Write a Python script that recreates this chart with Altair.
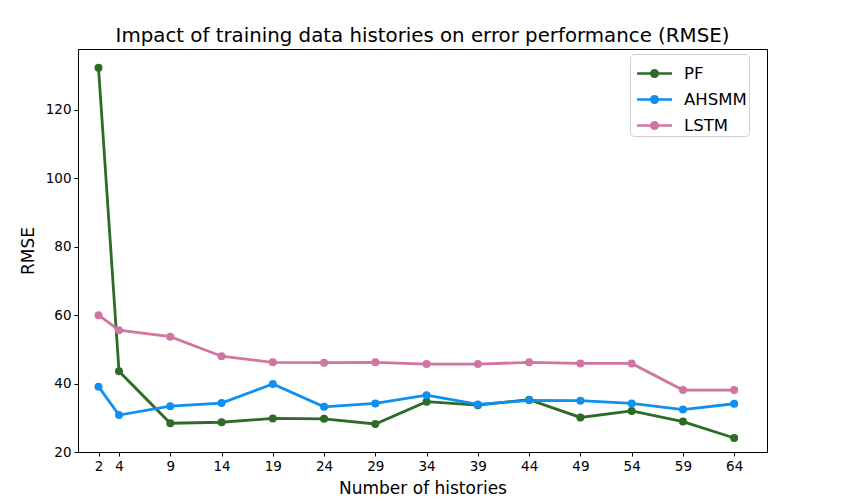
import altair as alt
import pandas as pd

histories = [2, 4, 9, 14, 19, 24, 29, 34, 39, 44, 49, 54, 59, 64]
pf = [132.3, 43.6, 28.4, 28.7, 29.8, 29.7, 28.2, 34.7, 33.7, 35.3, 30.1, 32.0, 28.9, 24.1]
ahsmm = [39.1, 30.8, 33.4, 34.3, 39.9, 33.2, 34.2, 36.6, 33.9, 35.1, 35.0, 34.2, 32.4, 34.1]
lstm = [60.0, 55.6, 53.7, 48.0, 46.2, 46.1, 46.2, 45.7, 45.7, 46.2, 45.9, 45.9, 38.1, 38.1]

series = ["PF", "AHSMM", "LSTM"]
colors = ["#2d6b27", "#0f8ff0", "#d275a0"]

rows = []
for name, vals in zip(series, [pf, ahsmm, lstm]):
    for h, v in zip(histories, vals):
        rows.append({"histories": h, "RMSE": v, "model": name})
df = pd.DataFrame(rows)

legend_symbol = ("M-1,-0.075H1V0.075H-1Z "
                 "M0.26,0A0.26,0.26 0 1,1 -0.26,0A0.26,0.26 0 1,1 0.26,0Z")

color = alt.Color(
    "model:N",
    scale=alt.Scale(domain=series, range=colors),
    sort=series,
    legend=alt.Legend(
        title=None,
        orient="none",
        legendX=552,
        legendY=5,
        symbolType=legend_symbol,
        symbolSize=1225,
        symbolStrokeWidth=0,
        symbolOpacity=1,
        symbolOffset=5,
        labelFontSize=16.5,
        labelFont="DejaVu Sans",
        labelColor="black",
        rowPadding=0,
        padding=2,
        strokeColor="#d0d0d0",
        fillColor="white",
        cornerRadius=4,
        labelOffset=12,
    ),
)

axis_style = dict(
    grid=False, labelFontSize=13.5, titleFontSize=17, tickSize=4,
    labelFont="DejaVu Sans", titleFont="DejaVu Sans", labelColor="black",
    titleColor="black", domainColor="black", tickColor="black",
    titleFontWeight="normal", labelPadding=3,
)

x = alt.X(
    "histories:Q",
    scale=alt.Scale(domain=[0, 67.2], nice=False, zero=False),
    axis=alt.Axis(values=histories, title="Number of histories",
                  titleBaseline="alphabetic", titleY=41, labelFlush=False,
                  **axis_style),
)
y = alt.Y(
    "RMSE:Q",
    scale=alt.Scale(domain=[20, 137.8], nice=False, zero=False),
    axis=alt.Axis(values=[20, 40, 60, 80, 100, 120], title="RMSE",
                  titleBaseline="middle", titleX=-50, titleY=201.5,
                  **axis_style),
)

lines = alt.Chart(df).mark_line(strokeWidth=2.8).encode(x=x, y=y, color=color,
                                                       order="histories:Q")
points = alt.Chart(df).mark_point(filled=True, size=64, opacity=1, shape="circle").encode(
    x=x, y=y, color=alt.Color("model:N", scale=alt.Scale(domain=series, range=colors), legend=None)
)

chart = alt.layer(lines, points).properties(
    width=689,
    height=403,
    background="white",
    title=alt.TitleParams(
        "Impact of training data histories on error performance (RMSE)",
        fontSize=19.8, font="DejaVu Sans", fontWeight="normal", color="black",
        anchor="middle", offset=7, baseline="alphabetic", dy=20,
    ),
    autosize=alt.AutoSizeParams(type="none"),
    padding={"left": 70, "top": 41, "right": 80, "bottom": 49},
).configure_view(
    stroke="black", strokeWidth=1
)

chart.save("out.html", embed_options={"renderer": "svg", "actions": False})
